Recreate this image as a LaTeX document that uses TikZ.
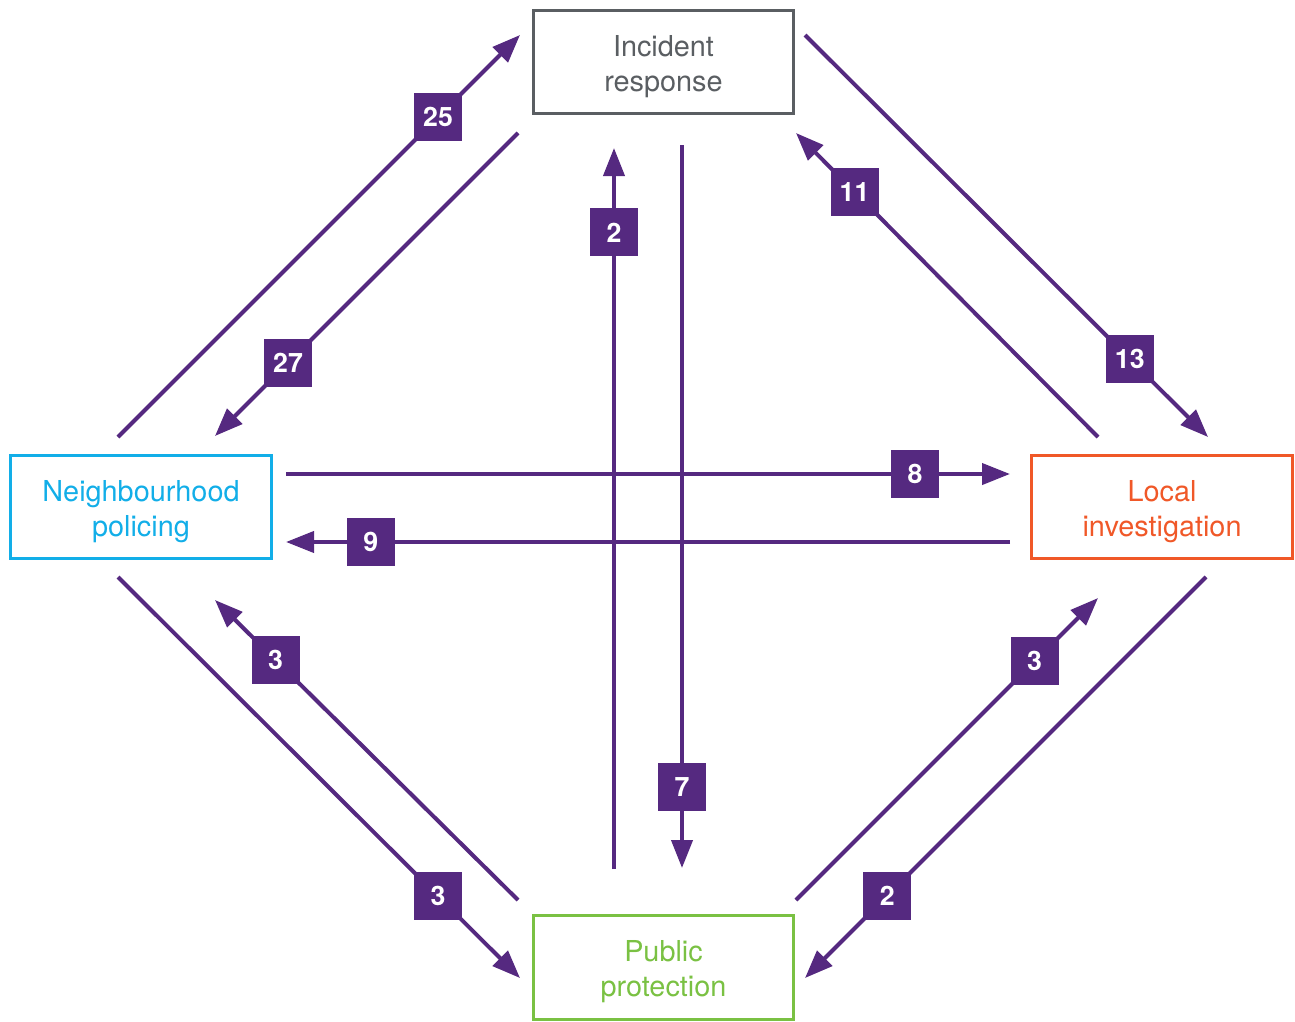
\documentclass[tikz,border=0pt]{standalone}
\usepackage{fontspec}
\setmainfont{TeX Gyre Heros}
\usepackage{xcolor}
\usepackage{tikz}
\usetikzlibrary{arrows.meta}
\usetikzlibrary{positioning}
\definecolor{flowpurple}{RGB}{85,41,128}
\definecolor{respgray}{RGB}{90,94,98}
\definecolor{hoodcyan}{RGB}{18,174,232}
\definecolor{localorange}{RGB}{240,88,40}
\definecolor{publicgreen}{RGB}{122,193,67}
\newcommand{\toplift}{\rule{0pt}{8.4pt}}

\begin{document}
\begin{tikzpicture}[x=0.01cm, y=-0.01cm]
\tikzstyle{unit} = [rectangle, draw, line width=0.85pt, minimum width=2.6cm, minimum height=1.03cm, inner sep=0pt, align=center, font=\fontsize{8.2}{10}\selectfont]
\tikzstyle{flow} = [draw=flowpurple, line width=1.14pt, -{Triangle[length=0.28cm,width=0.21cm]}]
\tikzstyle{count} = [rectangle, fill=flowpurple, text=white, minimum size=0.48cm, inner sep=0pt, font=\fontsize{7.6}{9}\bfseries\selectfont]
\useasboundingbox (0,0) rectangle (1295,1021);
\node (resp) [unit, draw=respgray, text=respgray] at (663.5,62) {\toplift Incident\\response};
\node (hood) [unit, draw=hoodcyan, text=hoodcyan] at (141,507) {\toplift Neighbourhood\\policing};
\node (local) [unit, draw=localorange, text=localorange] at (1162,507) {\toplift Local\\investigation};
\node (public) [unit, draw=publicgreen, text=publicgreen] at (663.5,967.5) {\toplift Public\\protection};
\coordinate (hoodNE) at (118,437);
\coordinate (hoodNEin) at (215,436);
\coordinate (hoodSE) at (118,577);
\coordinate (hoodSEin) at (215,600);
\coordinate (hoodE1) at (286,474);
\coordinate (hoodE2) at (286,542);
\coordinate (respW) at (520,35);
\coordinate (respWout) at (518,133);
\coordinate (respE) at (805,35);
\coordinate (respEin) at (796,133);
\coordinate (respS1) at (614,148);
\coordinate (respS2) at (682,145);
\coordinate (localNW) at (1208,437);
\coordinate (localNWout) at (1098,437);
\coordinate (localW1) at (1010,474);
\coordinate (localW2) at (1010,542);
\coordinate (localSW) at (1206,577);
\coordinate (localSWin) at (1098,598);
\coordinate (publicW) at (520,978);
\coordinate (publicWout) at (518,900);
\coordinate (publicE) at (805,978);
\coordinate (publicEout) at (796,900);
\coordinate (publicN1) at (614,869);
\coordinate (publicN2) at (682,868);
\draw [flow] (hoodNE) -- node [count, pos=0.796] {25} (respW);
\draw [flow] (respWout) -- node [count, pos=0.759] {27} (hoodNEin);
\draw [flow] (publicN1) -- node [count, pos=0.883] {2} (respS1);
\draw [flow] (respS2) -- node [count, pos=0.888] {7} (publicN2);
\draw [flow] (respE) -- node [count, pos=0.806] {13} (localNW);
\draw [flow] (localNWout) -- node [count, pos=0.806] {11} (respEin);
\draw [flow] (hoodE1) -- node [count, pos=0.869] {8} (localW1);
\draw [flow] (localW2) -- node [count, pos=0.883] {9} (hoodE2);
\draw [flow] (hoodSE) -- node [count, pos=0.796] {3} (publicW);
\draw [flow] (publicWout) -- node [count, pos=0.80] {3} (hoodSEin);
\draw [flow] (publicEout) -- node [count, pos=0.79] {3} (localSWin);
\draw [flow] (localSW) -- node [count, pos=0.795] {2} (publicE);
\end{tikzpicture}
\end{document}
